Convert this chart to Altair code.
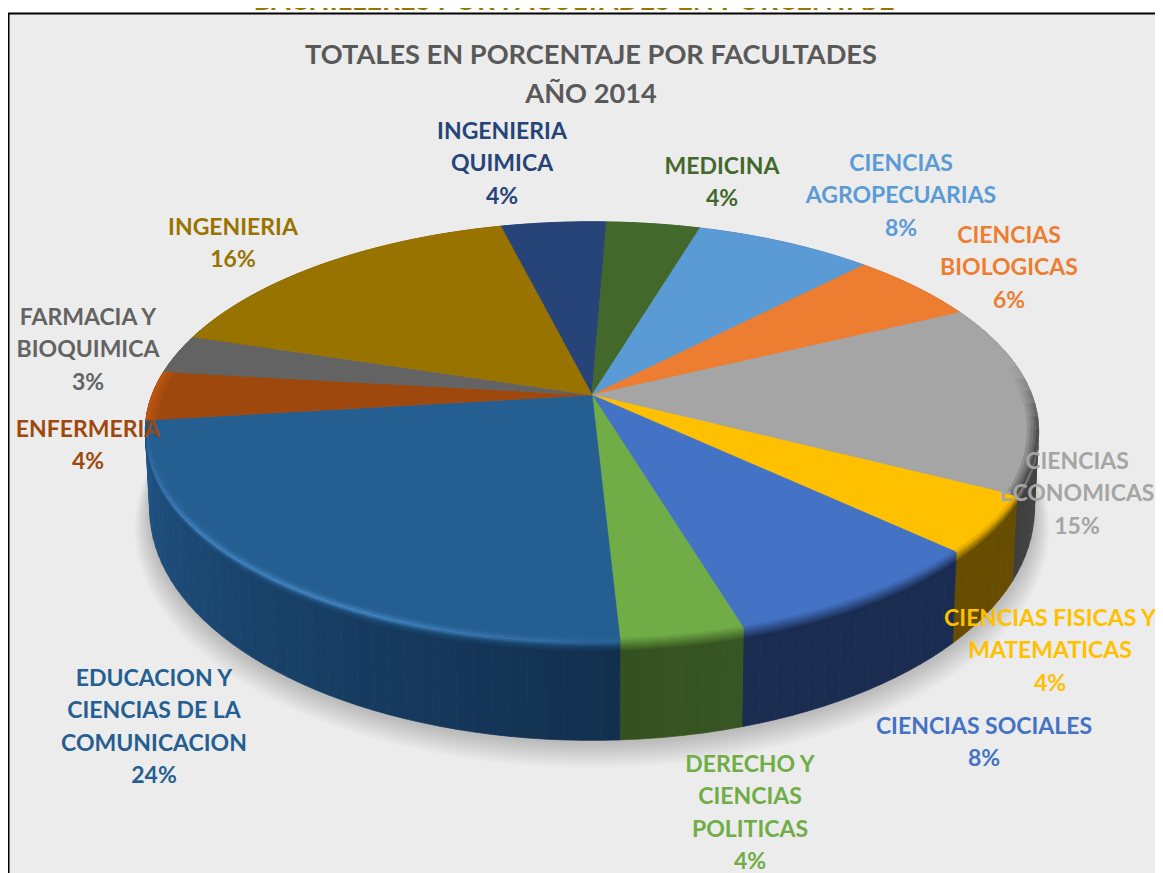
import numpy as np
import pandas as pd
import altair as alt

# ---- chart values ----
categories = ["INGENIERIA QUIMICA", "MEDICINA", "CIENCIAS AGROPECUARIAS", "CIENCIAS BIOLOGICAS",
              "CIENCIAS ECONOMICAS", "CIENCIAS FISICAS Y MATEMATICAS", "CIENCIAS SOCIALES",
              "DERECHO Y CIENCIAS POLITICAS", "EDUCACION Y CIENCIAS DE LA COMUNICACION",
              "ENFERMERIA", "FARMACIA Y BIOQUIMICA", "INGENIERIA"]
values = [4.5, 4.0, 7.6, 5.6, 14.75, 4.4, 8.4, 3.8, 23.9, 3.8, 3.0, 16.25]
face_colors = ["#264478", "#43682B", "#5B9BD5", "#ED7D31", "#A5A5A5", "#FFC000",
               "#4472C4", "#70AD47", "#255E91", "#9E480E", "#636363", "#997300"]
wall_start = ["#1c3359", "#324e20", "#446f98", "#b05d24", "#555555", "#664D00",
              "#1A2C50", "#385723", "#122F4D", "#205485", "#4a4a4a", "#725600"]
wall_end = ["#1c3359", "#324e20", "#446f98", "#b05d24", "#3f3f3f", "#664D00",
            "#1A2C50", "#34501F", "#205485", "#205485", "#4a4a4a", "#725600"]

label_lines = [["INGENIERIA", "QUIMICA", "4%"], ["MEDICINA", "4%"], ["CIENCIAS", "AGROPECUARIAS", "8%"],
               ["CIENCIAS", "BIOLOGICAS", "6%"], ["CIENCIAS", "ECONOMICAS", "15%"],
               ["CIENCIAS FISICAS Y", "MATEMATICAS", "4%"], ["CIENCIAS SOCIALES", "8%"],
               ["DERECHO Y", "CIENCIAS", "POLITICAS", "4%"],
               ["EDUCACION Y", "CIENCIAS DE LA", "COMUNICACION", "24%"],
               ["ENFERMERIA", "4%"], ["FARMACIA Y", "BIOQUIMICA", "3%"], ["INGENIERIA", "16%"]]
label_x = [502, 722, 901, 1009, 1077, 1050, 984, 750, 154, 88, 88, 233]
label_y = [131.5, 166.5, 163.5, 235.5, 461.5, 618.5, 726.5, 764.5, 678.5, 429.5, 317.5, 227.5]

title_lines = ["TOTALES EN PORCENTAJE POR FACULTADES", "AÑO 2014"]
cut_title = "BACHILLERES POR FACULTADES EN PORCENTAJE"

# ---- perspective view of the pie ----
W, H = 1147, 865
OX, OY = 8, 8
cx, cy, a, b, k = 592, 395, 440, 203, 0.172
START = 104.0
DEPTH, SX, SY = 75, 0.99, 1.103


def hex2rgb(c):
    return np.array([int(c[i:i + 2], 16) for i in (1, 3, 5)], dtype=float)


def mix(c1, c2, t):
    r = hex2rgb(c1) * (1 - t) + hex2rgb(c2) * t
    return "#%02x%02x%02x" % tuple(int(round(v)) for v in r)


def top(theta, r=1.0):
    t = np.radians(theta)
    d = 1 + k * np.sin(t)
    return cx + r * a * np.cos(t) / d, cy - r * b * np.sin(t) / d


def bottom(theta, r=1.0, dy=0.0):
    t = np.radians(theta)
    d = 1 + k * np.sin(t)
    return cx + r * SX * a * np.cos(t) / d, cy + DEPTH + dy - r * SY * b * np.sin(t) / d


def blend(theta, f):
    if f < 0:
        return top(theta, 1 + f * 0.4)
    x0, y0 = top(theta)
    x1, y1 = bottom(theta)
    return x0 * (1 - f) + x1 * f, y0 * (1 - f) + y1 * f


rows, shadow_rows = [], []
pid = 0


def add_poly(xs, ys, color, store=rows):
    global pid
    for i, (x, y) in enumerate(zip(xs, ys)):
        store.append({"poly": pid, "ord": i, "x": float(x) - OX, "y": float(y) - OY, "color": color})
    pid += 1


# boundaries of the slices, from the values
edges = START - np.cumsum([0] + values) / sum(values) * 360

# soft shadow below the pie
for n in range(16):
    f = 1 - n / 16
    th = np.linspace(0, 360, 181)
    xs, ys = bottom(th, 1.0 + 0.035 * f, 2 + 16 * f)
    add_poly(xs, ys, "#000000", shadow_rows)

# walls: thin strips, each with its own shade
for i in range(len(values)):
    s, e = edges[i], edges[i + 1]
    n = max(2, int((s - e) / 2))
    steps = np.linspace(s, e, n + 1)
    for j in range(n):
        t0, t1 = steps[j], steps[j + 1]
        xa, ya = top(np.array([t0, t1]))
        xb, yb = bottom(np.array([t1, t0]))
        add_poly(np.r_[xa, xb, xa[0]], np.r_[ya, yb, ya[0]], mix(wall_start[i], wall_end[i], (j + .5) / n))

# top faces
for i in range(len(values)):
    th = np.linspace(edges[i], edges[i + 1], int(values[i] * 3.6) + 2)
    xs, ys = top(th)
    add_poly(np.r_[cx, xs, cx], np.r_[cy, ys, cy], face_colors[i])

# rounded front rim between each face and wall
bands = [-0.04, -0.015, 0.01, 0.03, 0.05, 0.07, 0.09, 0.11, 0.13]
educ = categories.index("EDUCACION Y CIENCIAS DE LA COMUNICACION")
for i in range(len(values)):
    s, e = edges[i], edges[i + 1]
    s2, e2 = min(s, 0.0), max(e, -180.0)
    if s2 <= e2:
        continue
    n = max(2, int((s2 - e2) / 2))
    steps = np.linspace(s2, e2, n + 1)
    for j in range(n):
        t0, t1 = steps[j], steps[j + 1]
        w = mix(wall_start[i], wall_end[i], (j + .5) / n)
        for q in range(len(bands) - 1):
            f = q / (len(bands) - 2)
            col = mix(face_colors[i], w, f)
            if i == educ:
                mid = (t0 + t1) / 2
                glow = np.clip((mid + 70) / -45, 0.15, 1) * np.clip((mid + 182) / 35, 0, 1)
                peak = np.exp(-((f - 0.3) / 0.2) ** 2) * glow
                col = mix(col, "#4a90d0", 0.8 * peak)
            xa, ya = blend(np.array([t0, t1]), bands[q])
            xb, yb = blend(np.array([t1, t0]), bands[q + 1])
            add_poly(np.r_[xa, xb, xa[0]], np.r_[ya, yb, ya[0]], col)

# darker edge of the grey slice and lighter edge of the orange one
for name, dark, lim in [("CIENCIAS ECONOMICAS", "#303030", 0.75), ("ENFERMERIA", "#C55A11", 0.8)]:
    i = categories.index(name)
    steps = np.linspace(edges[i], edges[i + 1], 16)
    rings = [0.975, 0.982, 0.989, 0.995, 1.0]
    for j in range(15):
        t0, t1 = steps[j], steps[j + 1]
        if name == "CIENCIAS ECONOMICAS":
            amount = np.clip((8 - (t0 + t1) / 2) / 18, 0, 1)
        else:
            amount = 1.0
        for q in range(4):
            col = mix(face_colors[i], dark, lim * amount * (q + 1) / 4)
            xa, ya = top(np.array([t0, t1]), rings[q])
            xb, yb = top(np.array([t1, t0]), rings[q + 1])
            add_poly(np.r_[xa, xb, xa[0]], np.r_[ya, yb, ya[0]], col)

polys = pd.DataFrame(rows)
shadow = pd.DataFrame(shadow_rows)

# texts
txt = []
for i, lines in enumerate(label_lines):
    for j, line in enumerate(lines):
        txt.append({"t": line, "x": label_x[i] - OX, "y": label_y[i] + j * 32.6 - OY, "c": face_colors[i]})
texts = pd.DataFrame(txt)
title_df = pd.DataFrame({"t": title_lines, "x": [591 - OX] * 2, "y": [56 - OY, 95 - OY]})

xs = alt.X("x:Q", scale=alt.Scale(domain=[0, W], nice=False, zero=False), axis=None)
ys = alt.Y("y:Q", scale=alt.Scale(domain=[0, H], nice=False, zero=False, reverse=True), axis=None)

frame = pd.DataFrame({"x": [0.5], "x2": [W + 20], "y": [5.5], "y2": [H + 20]})
panel = alt.Chart(frame).mark_rect(fill="#ECECEC", stroke="#000000", strokeWidth=2, clip=False).encode(
    x=alt.X("x:Q", scale=alt.Scale(domain=[0, W], nice=False, zero=False), axis=None), x2="x2:Q",
    y=alt.Y("y:Q", scale=alt.Scale(domain=[0, H], nice=False, zero=False, reverse=True), axis=None), y2="y2:Q")

cut = alt.Chart(pd.DataFrame({"t": [cut_title], "x": [574 - OX], "y": [-6]})).mark_text(
    font="Lato", fontWeight="bold", fontSize=27.6, color="#997300", baseline="middle", align="center").encode(
    x=xs, y=ys, text="t:N")

shadow_layer = alt.Chart(shadow).mark_line(fillOpacity=0.012, strokeWidth=0, interpolate="linear").encode(
    x=xs, y=ys, order="ord:Q", detail="poly:N", fill=alt.Fill("color:N", scale=None))

poly_layer = alt.Chart(polys).mark_line(strokeWidth=0.7, interpolate="linear").encode(
    x=xs, y=ys, order="ord:Q", detail="poly:N",
    fill=alt.Fill("color:N", scale=None), stroke=alt.Stroke("color:N", scale=None))

label_layer = alt.Chart(texts).mark_text(
    font="Lato", fontWeight="bold", fontSize=23, baseline="middle", align="center").encode(
    x=xs, y=ys, text="t:N", color=alt.Color("c:N", scale=None))

title_layer = alt.Chart(title_df).mark_text(
    font="Lato", fontWeight="bold", fontSize=27.2, baseline="middle", align="center", color="#595959").encode(
    x=xs, y=ys, text="t:N")

chart = alt.layer(cut, panel, shadow_layer, poly_layer, title_layer, label_layer).properties(
    width=W, height=H, padding=0, background="#FFFFFF",
    autosize=alt.AutoSizeParams(type="none")
).configure_view(stroke=None)

chart.save("out.html", embed_options={"renderer": "svg", "actions": False})
